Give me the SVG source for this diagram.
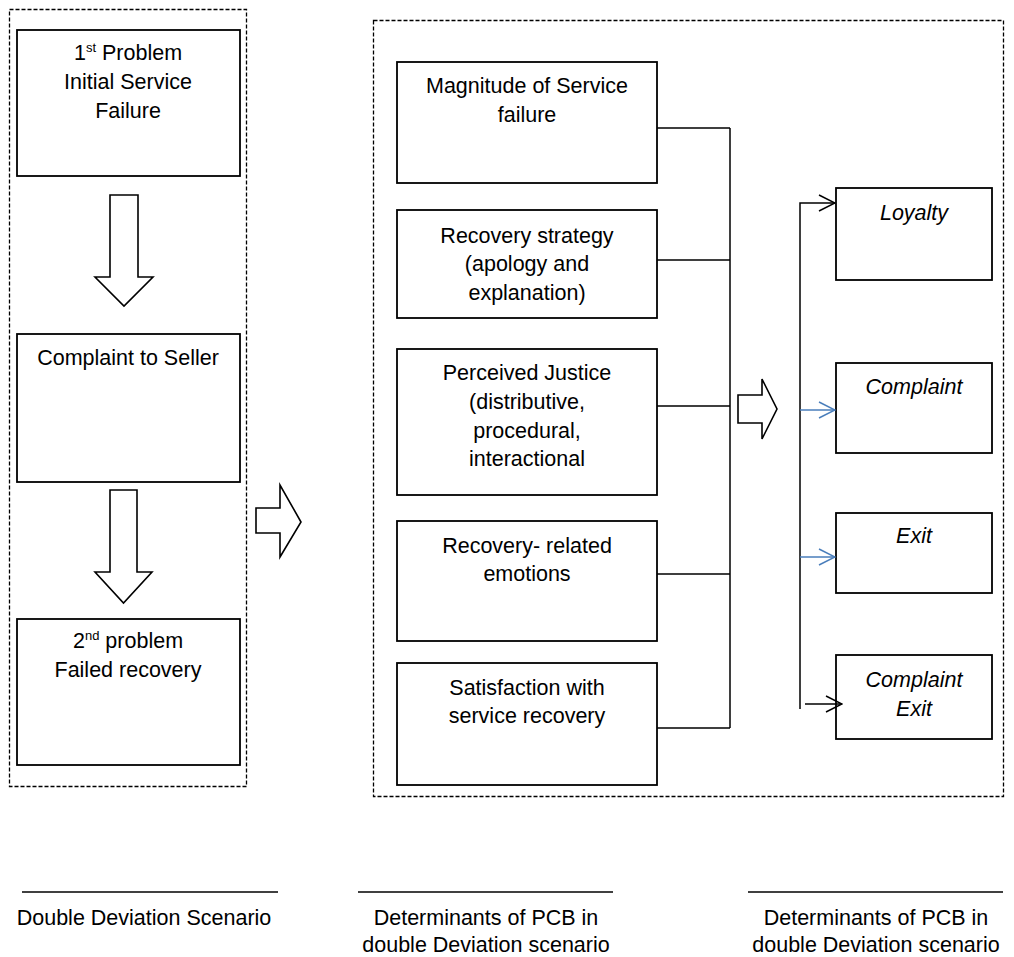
<svg xmlns="http://www.w3.org/2000/svg" width="1014" height="957" viewBox="0 0 1014 957">
  <style>
    .frame { fill: none; stroke: #000; stroke-width: 1.3; stroke-dasharray: 4 2; }
    .box { fill: #fff; stroke: #000; stroke-width: 1.8; }
    .block { fill: #fff; stroke: #000; stroke-width: 1.6; stroke-linejoin: miter; }
    .wire { fill: none; stroke: #000; stroke-width: 1.5; }
    .wire-blue { fill: none; stroke: #4a7ebb; stroke-width: 1.5; }
    .rule { stroke: #000; stroke-width: 1.5; }
    text { font-family: "Liberation Sans", Arial, sans-serif; font-size: 21.5px; fill: #000; text-anchor: middle; }
    .it { font-style: italic; }
    .sup { font-size: 13px; }
  </style>
  <defs>
    <marker id="open-black" viewBox="0 0 18 18" refX="17" refY="9" markerWidth="18" markerHeight="18" markerUnits="userSpaceOnUse" orient="auto">
      <path d="M1 1 L17 9 L1 17" fill="none" stroke="#000" stroke-width="1.5"/>
    </marker>
    <marker id="open-blue" viewBox="0 0 18 18" refX="17" refY="9" markerWidth="18" markerHeight="18" markerUnits="userSpaceOnUse" orient="auto">
      <path d="M1 1 L17 9 L1 17" fill="none" stroke="#4a7ebb" stroke-width="1.5"/>
    </marker>
  </defs>

  <!-- dashed panels -->
  <rect class="frame" x="9.5" y="9.5" width="237" height="777"/>
  <rect class="frame" x="373.5" y="20.5" width="630" height="776"/>

  <!-- left column: scenario -->
  <g id="first-problem">
    <rect class="box" x="17" y="30" width="223" height="146"/>
    <text x="128" y="60">1<tspan class="sup" dy="-8">st</tspan><tspan dy="8"> Problem</tspan></text>
    <text x="128" y="89">Initial Service</text>
    <text x="128" y="118">Failure</text>
  </g>
  <g id="complaint-seller">
    <rect class="box" x="17" y="334" width="223" height="148"/>
    <text x="128" y="365">Complaint to Seller</text>
  </g>
  <g id="second-problem">
    <rect class="box" x="17" y="619" width="223" height="146"/>
    <text x="128" y="648">2<tspan class="sup" dy="-8">nd</tspan><tspan dy="8"> problem</tspan></text>
    <text x="128" y="677">Failed recovery</text>
  </g>

  <!-- block arrows -->
  <g id="block-arrows">
    <path class="block" d="M110 195 H138 V277 H153 L124 306 L95 277 H110 Z"/>
    <path class="block" d="M110 490 H137 V572 H152 L123.5 603 L95 572 H110 Z"/>
    <path class="block" d="M256 508 H280 V485 L301 522 L280 557 V533 H256 Z"/>
    <path class="block" d="M738 395 H762 V379 L777 409 L762 439 V423 H738 Z"/>
  </g>

  <!-- middle column: determinants -->
  <g id="magnitude">
    <rect class="box" x="397" y="62" width="260" height="121"/>
    <text x="527" y="93">Magnitude of Service</text>
    <text x="527" y="122">failure</text>
  </g>
  <g id="recovery-strategy">
    <rect class="box" x="397" y="210" width="260" height="108"/>
    <text x="527" y="243">Recovery strategy</text>
    <text x="527" y="271">(apology and</text>
    <text x="527" y="300">explanation)</text>
  </g>
  <g id="perceived-justice">
    <rect class="box" x="397" y="349" width="260" height="146"/>
    <text x="527" y="380">Perceived Justice</text>
    <text x="527" y="409">(distributive,</text>
    <text x="527" y="438">procedural,</text>
    <text x="527" y="466">interactional</text>
  </g>
  <g id="recovery-emotions">
    <rect class="box" x="397" y="521" width="260" height="120"/>
    <text x="527" y="553">Recovery- related</text>
    <text x="527" y="581">emotions</text>
  </g>
  <g id="satisfaction">
    <rect class="box" x="397" y="663" width="260" height="122"/>
    <text x="527" y="695">Satisfaction with</text>
    <text x="527" y="723">service recovery</text>
  </g>

  <!-- right column: outcomes -->
  <g id="loyalty">
    <rect class="box" x="836" y="188" width="156" height="92"/>
    <text class="it" x="914" y="220">Loyalty</text>
  </g>
  <g id="complaint">
    <rect class="box" x="836" y="363" width="156" height="90"/>
    <text class="it" x="914" y="394">Complaint</text>
  </g>
  <g id="exit">
    <rect class="box" x="836" y="513" width="156" height="80"/>
    <text class="it" x="914" y="543">Exit</text>
  </g>
  <g id="complaint-exit">
    <rect class="box" x="836" y="655" width="156" height="84"/>
    <text class="it" x="914" y="687">Complaint</text>
    <text class="it" x="914" y="716">Exit</text>
  </g>

  <!-- connectors -->
  <g id="connectors">
    <path class="wire" d="M657 128 H730 M657 260 H730 M657 406 H730 M657 574 H730 M657 728 H730 M730 128 V728"/>
    <path class="wire" d="M800 709 V203 H835" marker-end="url(#open-black)"/>
    <path class="wire-blue" d="M800 410 H835" marker-end="url(#open-blue)"/>
    <path class="wire-blue" d="M800 557 H835" marker-end="url(#open-blue)"/>
    <path class="wire" d="M805 704 H842" marker-end="url(#open-black)"/>
  </g>

  <!-- captions -->
  <g id="captions">
    <line class="rule" x1="22" y1="892" x2="278" y2="892"/>
    <line class="rule" x1="358" y1="892" x2="613" y2="892"/>
    <line class="rule" x1="748" y1="892" x2="1003" y2="892"/>
    <text x="144" y="925">Double Deviation Scenario</text>
    <text x="486" y="925">Determinants of PCB in</text>
    <text x="486" y="952">double Deviation scenario</text>
    <text x="876" y="925">Determinants of PCB in</text>
    <text x="876" y="952">double Deviation scenario</text>
  </g>
</svg>
